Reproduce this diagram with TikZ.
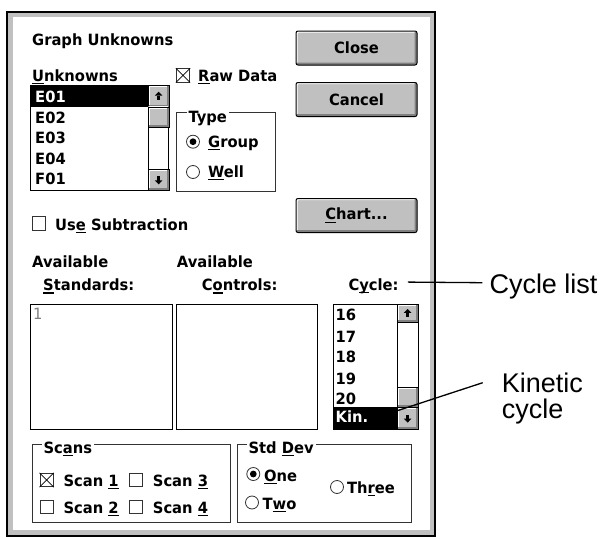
\documentclass[tikz,border=0pt]{standalone}
\usepackage{fontspec}
\newfontfamily\dlgfont{DejaVu Sans}[FakeStretch=0.95]
\newfontfamily\callfont{Liberation Sans}
\definecolor{winGray}{HTML}{C0C0C0}
\definecolor{winDark}{HTML}{808080}
\newcommand{\ulk}[1]{\setbox0=\hbox{#1}\rlap{\vrule width\wd0 height -1.7pt depth 2.9pt}#1}

\begin{document}
\begin{tikzpicture}[x=1pt, y=-1pt,
    lbl/.style={anchor=base west, inner sep=0, font=\dlgfont\bfseries\fontsize{15.5}{18}\selectfont},
    grplbl/.style={lbl, fill=white, inner xsep=2},
    callout/.style={anchor=base west, inner sep=0, font=\callfont\fontsize{27}{30}\selectfont},
    callline/.style={line width=1.3},
    bevel/.style={path picture={
        \draw[white, line width=2.4] ([shift={(0.5,-0.5)}]path picture bounding box.south west) |- ([shift={(-0.5,0.5)}]path picture bounding box.north east);
        \draw[winDark, line width=3.6] ([shift={(0.5,-0.5)}]path picture bounding box.south west) -| ([shift={(-0.5,0.5)}]path picture bounding box.north east);}},
    btn/.style={draw, fill=winGray, rounded corners=2, line width=1, minimum width=121, minimum height=34, inner sep=0, bevel, font=\dlgfont\bfseries\fontsize{15.5}{18}\selectfont},
    sbtn/.style={draw, fill=winGray, anchor=north west, inner sep=0, line width=0.8, minimum width=20.5, bevel},
    listbox/.style={draw, fill=white, anchor=north west, inner sep=0, line width=0.9},
    grp/.style={draw=black!80, line width=0.8},
    chk/.style={draw=black!80, fill=white, minimum size=13.5, inner sep=0, line width=0.8},
    radio/.style={circle, draw=black!80, fill=white, minimum size=13, inner sep=0, line width=0.8},
    uparr/.pic={\fill (0,-4.5) -- (3.8,-0.5) -- (-3.8,-0.5) -- cycle; \fill (-1.3,-0.6) rectangle (1.3,3.5);},
    dnarr/.pic={\fill (0,4.5) -- (3.8,0.5) -- (-3.8,0.5) -- cycle; \fill (-1.3,0.6) rectangle (1.3,-3.5);}]

    \useasboundingbox (0,0) rectangle (602,538);

    % dialog frame
    \draw[line width=1.2, fill=winGray] (7,12) rectangle (435,536);
    \fill[white] (13,17) rectangle (430,530);

    \node[lbl] (title) at (32,45.7) {Graph Unknowns};

    % unknowns list
    \node[lbl] (unklbl) at (32,81) {\ulk{U}nknowns};
    \node[listbox, minimum width=138, minimum height=105] (unk) at (30,85) {};
    \fill (30,85) rectangle (148,106.5);
    \node[lbl, text=white] (e01) at (35,102.5) {E01};
    \node[lbl] (e02) at (35,123) {E02};
    \node[lbl] (e03) at (35,143.5) {E03};
    \node[lbl] (e04) at (35,164) {E04};
    \node[lbl] (f01) at (35,184.5) {F01};
    \draw[line width=0.9] (148,85) -- (148,190);
    \node[sbtn, minimum height=21.5] (unkup) at (148,85) {};
    \node[sbtn, minimum height=20] (unkthumb) at (148,106.5) {};
    \node[sbtn, minimum height=21] (unkdn) at (148,169) {};
    \pic at (unkup) {uparr};
    \pic at (unkdn) {dnarr};

    % raw data
    \node[chk] (rawbox) at (183,75.3) {};
    \draw[line width=0.7] (rawbox.north west) -- (rawbox.south east) (rawbox.north east) -- (rawbox.south west);
    \node[lbl] (raw) at (198,81) {\ulk{R}aw Data};

    % type group
    \draw[grp] (176,112.5) rectangle (275,191);
    \node[grplbl] (typelbl) at (186.3,122) {Type};
    \node[radio] (grpradio) at (193,141.7) {};
    \fill (grpradio.center) circle (3.4);
    \node[lbl] (grp) at (208,147.5) {\ulk{G}roup};
    \node[radio] (wellradio) at (193,172) {};
    \node[lbl] (well) at (208,177.5) {\ulk{W}ell};

    % buttons
    \node[btn] (close) at (356.5,48) {Close};
    \node[btn] (cancel) at (356.5,99.5) {Cancel};
    \node[btn] (chart) at (356.5,215.5) {\ulk{C}hart...};

    % subtraction
    \node[chk] (subbox) at (38.7,223.5) {};
    \node[lbl] (sub) at (55,230) {Us\ulk{e} Subtraction};

    % list headings
    \node[lbl] (avstd) at (32,267) {Available};
    \node[lbl] (std) at (43,290.7) {\ulk{S}tandards:};
    \node[lbl] (avctl) at (176.7,267) {Available};
    \node[lbl] (ctl) at (201.7,290.7) {C\ulk{o}ntrols:};
    \node[lbl] (cyclbl) at (348.3,290.3) {C\ulk{y}cle:};

    % standards and controls
    \node[listbox, minimum width=142, minimum height=124.5] (stdlist) at (30,304) {};
    \node[lbl, font=\dlgfont\fontsize{15.5}{18}\selectfont, text=winDark] (std1) at (33,319.5) {1};
    \node[listbox, minimum width=141, minimum height=124.5] (ctllist) at (176,304) {};

    % cycle list
    \node[listbox, minimum width=85, minimum height=124.5] (cyclist) at (333,304) {};
    \fill (333,407) rectangle (397,428.5);
    \node[lbl] (c16) at (335.5,320.7) {16};
    \node[lbl] (c17) at (335.5,342.3) {17};
    \node[lbl] (c18) at (335.5,362.7) {18};
    \node[lbl] (c19) at (335.5,384) {19};
    \node[lbl] (c20) at (335.5,404) {20};
    \node[lbl, text=white] (kin) at (335.5,422.7) {Kin.};
    \draw[line width=0.9] (397,304) -- (397,428.5);
    \node[sbtn, minimum height=18] (cycup) at (397,304) {};
    \node[sbtn, minimum height=20] (cycthumb) at (397,387) {};
    \node[sbtn, minimum height=21.5] (cycdn) at (397,407) {};
    \pic at (cycup) {uparr};
    \pic at (cycdn) {dnarr};

    % scans group
    \draw[grp] (32,444) rectangle (230,522);
    \node[grplbl] (scans) at (41.3,453.3) {Sc\ulk{a}ns};
    \node[chk] (s1box) at (46.7,480) {};
    \draw[line width=0.7] (s1box.north west) -- (s1box.south east) (s1box.north east) -- (s1box.south west);
    \node[lbl] (s1) at (63.3,486) {Scan \ulk{1}};
    \node[chk] (s3box) at (136,480) {};
    \node[lbl] (s3) at (152.7,486) {Scan \ulk{3}};
    \node[chk] (s2box) at (46.7,506.7) {};
    \node[lbl] (s2) at (63.3,513) {Scan \ulk{2}};
    \node[chk] (s4box) at (136,506.7) {};
    \node[lbl] (s4) at (152.7,513) {Scan \ulk{4}};

    % std dev group
    \draw[grp] (237,444) rectangle (411,522);
    \node[grplbl] (stddev) at (246.3,453.3) {Std \ulk{D}ev};
    \node[radio] (oneradio) at (253.3,474) {};
    \fill (oneradio.center) circle (3.4);
    \node[lbl] (one) at (264,481) {\ulk{O}ne};
    \node[radio] (tworadio) at (252,502.5) {};
    \node[lbl] (two) at (262.5,509) {T\ulk{w}o};
    \node[radio] (threeradio) at (337,487) {};
    \node[lbl] (three) at (347,493) {Th\ulk{r}ee};

    % callouts
    \node[callout] (cyclelist) at (489.3,293.3) {Cycle list};
    \node[callout] (kinetic) at (501.7,392.7) {Kinetic};
    \node[callout] (kincycle) at ([shift={(0,25.6)}]kinetic.base west) {cycle};
    \coordinate (kinpt) at (397.3,410.7);
    \draw[callline] ([shift={(9,-4)}]cyclbl.east) -- ([shift={(-7,-10.6)}]cyclelist.base west);
    \draw[callline] ([shift={(-19,-10)}]kinetic.base west) -- (kinpt);
\end{tikzpicture}
\end{document}
